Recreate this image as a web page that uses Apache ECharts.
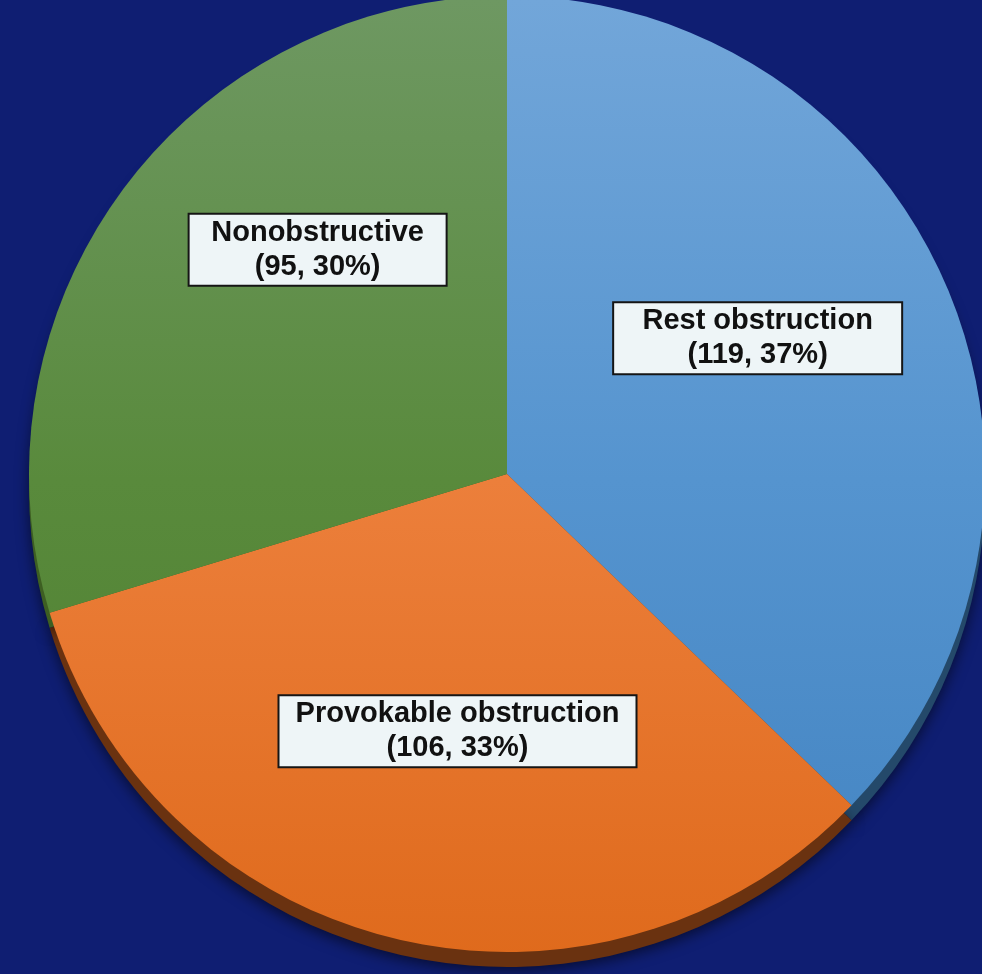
<!DOCTYPE html>
<html><head><meta charset="utf-8">
<script src="https://cdn.jsdelivr.net/npm/echarts@6/dist/echarts.min.js"></script>
<style>html,body{margin:0;padding:0;background:#0f1e72;}#c{width:982px;height:974px;}</style>
</head><body><div id="c"></div>
<script>
const categories = ['Rest obstruction', 'Provokable obstruction', 'Nonobstructive'];
const values = [119, 106, 95];
const labelWidths = [287, 356, 256];
const labelOffsets = [[28, -41], [7, 22], [5, -80]];
const faceColors = [
  ['#72a6d9', '#5594cf', '#4283c1'],
  ['#f0925c', '#ec7f3b', '#df6a1c'],
  ['#6e9862', '#598a3c', '#4d7e2e']
];
const sideColors = ['#24496a', '#6a3210', '#3d5f22'];

const CX = 507, CY = 474, R = 478;
function grad(c) {
  return { type: 'linear', x: 0, y: 0, x2: 0, y2: 960, global: true,
    colorStops: [{offset: 0, color: c[0]}, {offset: 0.5, color: c[1]}, {offset: 1, color: c[2]}] };
}
const faceData = categories.map((n, i) => ({
  name: n, value: values[i],
  itemStyle: { color: grad(faceColors[i]) },
  label: { width: labelWidths[i], offset: labelOffsets[i] }
}));
const sideData = categories.map((n, i) => ({
  name: n, value: values[i], itemStyle: { color: sideColors[i] }
}));

const chart = echarts.init(document.getElementById('c'), null, {renderer: 'canvas'});
chart.setOption({
  backgroundColor: '#0f1e72',
  animation: false,
  series: [
    {
      type: 'pie', center: [CX, CY + 15], radius: R, startAngle: 90, clockwise: true,
      silent: true, z: 1,
      itemStyle: { borderWidth: 0, shadowBlur: 14, shadowColor: 'rgba(0,0,0,0.55)', shadowOffsetY: 4 },
      label: { show: false }, labelLine: { show: false },
      data: sideData
    },
    {
      type: 'pie', center: [CX, CY], radius: R, startAngle: 90, clockwise: true,
      percentPrecision: 0, z: 2,
      itemStyle: { borderWidth: 0 },
      labelLine: { show: false },
      label: {
        show: true, position: 'inside',
        formatter: '{b}\n({c}, {d}%)',
        fontFamily: '"Liberation Sans", Arial, sans-serif',
        fontWeight: 'bold', fontSize: 29, lineHeight: 34, color: '#111',
        backgroundColor: '#eef5f7', borderColor: '#151515', borderWidth: 2,
        padding: [1, 0, 1, 0], align: 'center'
      },
      data: faceData
    }
  ]
});
</script></body></html>
